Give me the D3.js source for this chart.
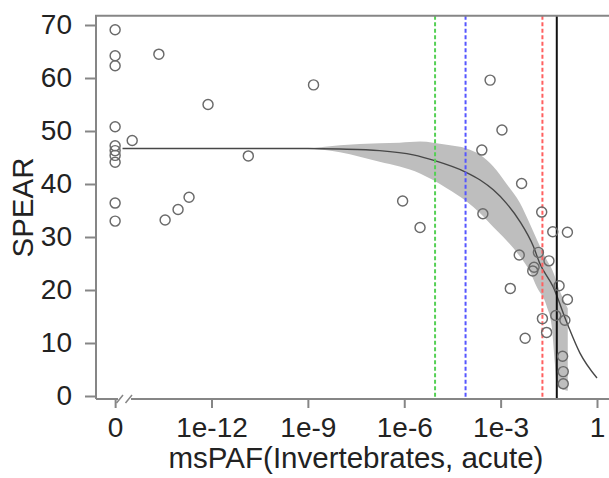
<!DOCTYPE html>
<html>
<head>
<meta charset="utf-8">
<script src="https://cdn.jsdelivr.net/npm/d3@7"></script>
<style>
  html, body { margin: 0; padding: 0; background: #ffffff; }
  svg { display: block; }
  text { font-family: "Liberation Sans", Arial, Helvetica, sans-serif; fill: #222; }
</style>
</head>
<body>
<svg id="chart" width="609" height="478"></svg>
<script>
// Observed sites: msPAF (0 = no predicted toxic pressure) vs SPEAR index
const zeroStandIn = 1e-15; // where msPAF = 0 is placed on the log axis, left of the break
const pointMsPAF = [
  0, 0, 0, 0, 0, 0, 0, 0, 0, 0,
  3.4e-15, 2.3e-14, 3.6e-14, 9.1e-14, 2.0e-13, 7.8e-13, 1.4e-11, 1.5e-9,
  8.9e-7, 3.1e-6, 4.7e-4, 1.1e-3, 2.6e-4, 2.8e-4, 4.5e-3, 0.019, 0.042, 0.12,
  3.8e-3, 0.015, 0.032, 0.011, 0.010, 2.0e-3, 0.066, 0.12, 0.052, 0.10,
  0.020, 0.027, 5.8e-3, 0.085, 0.089, 0.089
];
const pointSPEAR = [
  69.1, 64.2, 62.3, 50.8, 47.2, 46.3, 45.4, 44.1, 36.4, 33.0,
  48.2, 64.5, 33.2, 35.2, 37.5, 55.0, 45.3, 58.7,
  36.8, 31.8, 59.6, 50.2, 46.4, 34.4, 40.1, 34.7, 31.0, 30.9,
  26.6, 27.1, 25.5, 24.3, 23.6, 20.3, 20.8, 18.2, 15.2, 14.3,
  14.6, 12.0, 10.9, 7.5, 4.6, 2.3
];

// Fitted response curve
const fitMsPAF = [1.7e-15, 1e-9, 1e-8, 1.7e-7, 1.9e-6, 8.9e-6, 7.8e-5, 2.3e-4, 5.9e-4,
                  1.5e-3, 4.0e-3, 0.0105, 0.0166, 0.043, 0.116, 0.295, 1];
const fitSPEAR = [46.7, 46.7, 46.6, 46.3, 45.5, 44.4, 42.3, 40.75, 38.9,
                  36.4, 32.9, 28.2, 25.0, 20.6, 13.8, 8.1, 3.4];

// Confidence band of the fit
const bandMsPAF = [1.15e-9, 1e-8, 1.7e-7, 7.2e-7, 3.1e-6, 7.9e-6, 2.1e-5, 8.7e-5, 2.3e-4,
                   5.9e-4, 1.5e-3, 4.0e-3, 8.1e-3, 0.0135, 0.027, 0.039, 0.049, 0.056, 0.079, 0.123];
const bandLower = [46.7, 46.0, 44.2, 43.3, 42.0, 40.75, 39.2, 36.7, 34.5,
                   31.9, 29.4, 26.3, 23.5, 20.5, 17.0, 13.1, 6.0, 2.0, 1.3, 1.0];
const bandUpper = [46.7, 47.3, 47.7, 47.8, 48.0, 47.8, 47.4, 46.7, 45.5,
                   43.3, 40.1, 36.4, 32.5, 29.5, 25.7, 24.0, 22.5, 21.3, 19.0, 16.5];

// Reference thresholds
const thresholds = [
  { value: 9.1e-6, color: "#55d055", dash: "4,2.5", width: 2 },
  { value: 8.1e-5, color: "#5656ff", dash: "4,2.5", width: 2 },
  { value: 0.02,   color: "#ff6060", dash: "4,2.5", width: 2 },
  { value: 0.056,  color: "#111111", dash: null,    width: 2 }
];

const yTickValues = [0, 10, 20, 30, 40, 50, 60, 70];
const xTickValues = [zeroStandIn, 1e-12, 1e-9, 1e-6, 1e-3, 1];
const xTickLabels = ["0", "1e-12", "1e-9", "1e-6", "1e-3", "1"];

const svg = d3.select("#chart");
const W = 609;
const plotLeft = 96, plotTop = 15.7, plotBottom = 399;
const axisColor = "#868686";

const x = d3.scaleLog().domain([1e-12, 1]).range([211.5, 597]);
const y = d3.scaleLinear().domain([0, 70]).range([396, 25]);
const xPos = v => x(v === 0 ? zeroStandIn : v);

// Confidence band
const area = d3.area()
  .x(i => x(bandMsPAF[i]))
  .y0(i => y(bandLower[i]))
  .y1(i => y(bandUpper[i]))
  .curve(d3.curveMonotoneX);
svg.append("path")
  .attr("d", area(d3.range(bandMsPAF.length)))
  .attr("fill", "#bebebe");

// Fitted curve
const line = d3.line()
  .x(i => x(fitMsPAF[i]))
  .y(i => y(fitSPEAR[i]))
  .curve(d3.curveMonotoneX);
svg.append("path")
  .attr("d", line(d3.range(fitMsPAF.length)))
  .attr("fill", "none")
  .attr("stroke", "#474747")
  .attr("stroke-width", 1.4);

// Threshold lines
svg.append("g").selectAll("line").data(thresholds).join("line")
  .attr("x1", d => x(d.value)).attr("x2", d => x(d.value))
  .attr("y1", plotTop).attr("y2", plotBottom)
  .attr("stroke", d => d.color)
  .attr("stroke-width", d => d.width)
  .attr("stroke-dasharray", d => d.dash);

// Observations
svg.append("g").selectAll("circle").data(d3.range(pointMsPAF.length)).join("circle")
  .attr("cx", i => xPos(pointMsPAF[i]))
  .attr("cy", i => y(pointSPEAR[i]))
  .attr("r", 5)
  .attr("fill", "none")
  .attr("stroke", "#6a6a6a")
  .attr("stroke-width", 1.45);

// Frame: top and left edges
svg.append("path")
  .attr("d", `M${W + 5},${plotTop}H${plotLeft}V${plotBottom}`)
  .attr("fill", "none").attr("stroke", axisColor).attr("stroke-width", 2);

// Bottom axis line with a break between 0 and the log range
svg.append("path")
  .attr("d", `M${plotLeft},${plotBottom}H118 M131,${plotBottom}H${W + 5}`)
  .attr("fill", "none").attr("stroke", axisColor).attr("stroke-width", 2);
svg.append("path")
  .attr("d", `M116.5,403L123,395 M125.5,403L132,395`)
  .attr("fill", "none").attr("stroke", axisColor).attr("stroke-width", 1.5);

// Y axis
const yAxis = svg.append("g")
  .attr("transform", `translate(${plotLeft},0)`)
  .call(d3.axisLeft(y).tickValues(yTickValues).tickSize(11).tickPadding(13));
yAxis.select(".domain").remove();
yAxis.selectAll(".tick line").attr("stroke", axisColor).attr("stroke-width", 2);
yAxis.selectAll(".tick text")
  .attr("font-size", 28).attr("font-family", null).attr("fill", "#222");

// X axis
const xAxis = svg.append("g")
  .attr("transform", `translate(0,${plotBottom})`)
  .call(d3.axisBottom(x).tickValues(xTickValues)
    .tickFormat((d, i) => xTickLabels[i]).tickSize(9).tickPadding(9));
xAxis.select(".domain").remove();
xAxis.selectAll(".tick line").attr("stroke", axisColor).attr("stroke-width", 2);
xAxis.selectAll(".tick text")
  .attr("font-size", 28).attr("font-family", null).attr("fill", "#222");

// Axis titles
svg.append("text")
  .attr("x", 356).attr("y", 468)
  .attr("text-anchor", "middle")
  .attr("font-size", 29.5)
  .text("msPAF(Invertebrates, acute)");
svg.append("text")
  .attr("transform", "translate(33,207.5) rotate(-90)")
  .attr("text-anchor", "middle")
  .attr("font-size", 29.5)
  .text("SPEAR");
</script>
</body>
</html>
